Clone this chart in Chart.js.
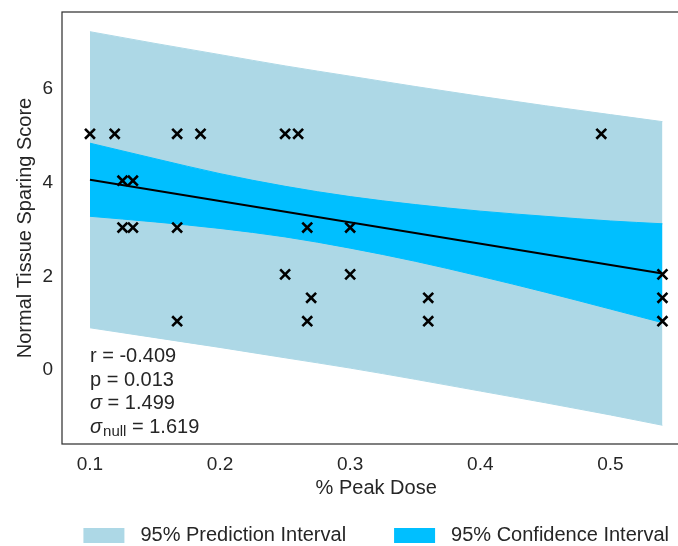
<!DOCTYPE html>
<html lang="en">
<head>
<meta charset="UTF-8">
<title>Normal Tissue Sparing Score vs % Peak Dose</title>
<script src="https://cdn.jsdelivr.net/npm/chart.js"></script>
<style>
  html, body { margin: 0; padding: 0; overflow: hidden; background: #fff; }
</style>
</head>
<body>
<canvas id="doseChart" width="700" height="546"></canvas>
<script>
// observed points (% peak dose, sparing score)
const doseX = [0.1, 0.119, 0.167, 0.185, 0.25, 0.26, 0.493,
               0.125, 0.133,
               0.125, 0.133, 0.167, 0.267, 0.3,
               0.25, 0.3, 0.54,
               0.27, 0.36, 0.54,
               0.167, 0.267, 0.36, 0.54];
const scoreY = [5, 5, 5, 5, 5, 5, 5,
                4, 4,
                3, 3, 3, 3, 3,
                2, 2, 2,
                1.5, 1.5, 1.5,
                1, 1, 1, 1];

// fitted line
const fitX = [0.1, 0.54];
const fitY = [4.02, 2.02];

// interval edges
const bandX   = [0.1, 0.15, 0.2, 0.25, 0.3, 0.35, 0.4, 0.45, 0.5, 0.54];
const piUpper = [7.18, 6.93, 6.69, 6.45, 6.23, 6.01, 5.80, 5.60, 5.41, 5.26];
const ciUpper = [4.80, 4.47, 4.15, 3.88, 3.66, 3.49, 3.35, 3.24, 3.14, 3.08];
const ciLower = [3.24, 3.12, 2.98, 2.80, 2.56, 2.28, 1.96, 1.62, 1.26, 0.97];
const piLower = [0.86, 0.65, 0.44, 0.22, 0.00, -0.24, -0.49, -0.74, -1.00, -1.22];

const xTicks = [0.1, 0.2, 0.3, 0.4, 0.5];
const yTicks = [0, 2, 4, 6];

const stats = [
  { sym: '', sub: '', text: 'r = -0.409' },
  { sym: '', sub: '', text: 'p = 0.013' },
  { sym: 'σ', sub: '', text: ' = 1.499' },
  { sym: 'σ', sub: 'null', text: ' = 1.619' }
];

const FONT = '"Liberation Sans", Arial, sans-serif';
const TEXT = '#262626';
const PI_COLOR = '#ADD8E6';
const CI_COLOR = '#00BFFF';

Chart.defaults.font.family = FONT;
Chart.defaults.color = TEXT;

const toPts = (xs, ys) => xs.map((x, i) => ({ x: x, y: ys[i] }));

// box around the plot area (right side runs off the page, as in the original)
const framePlugin = {
  id: 'frame',
  afterDraw(chart) {
    const { ctx, chartArea: a } = chart;
    ctx.save();
    ctx.strokeStyle = '#333';
    ctx.lineWidth = 1.25;
    ctx.strokeRect(a.left, a.top, a.right - a.left, a.bottom - a.top);
    ctx.restore();
  }
};

// r / p / sigma text in lower left corner
const statsPlugin = {
  id: 'stats',
  afterDraw(chart) {
    const { ctx, chartArea: a } = chart;
    ctx.save();
    ctx.fillStyle = TEXT;
    ctx.textBaseline = 'middle';
    const x0 = a.left + 28;
    let y = a.bottom - 17 - 23.4 * (stats.length - 1);
    stats.forEach(s => {
      let x = x0;
      if (s.sym) {
        ctx.font = 'italic 20px ' + FONT;
        ctx.fillText(s.sym, x, y);
        x += ctx.measureText(s.sym).width;
      }
      if (s.sub) {
        ctx.font = '15px ' + FONT;
        ctx.fillText(s.sub, x + 1, y + 5);
        x += ctx.measureText(s.sub).width + 1;
      }
      ctx.font = '20px ' + FONT;
      ctx.fillText(s.text, x, y);
      y += 23.4;
    });
    ctx.restore();
  }
};

// legend row under the axis title
const legendPlugin = {
  id: 'bandLegend',
  afterDraw(chart) {
    const { ctx, chartArea: a } = chart;
    const items = [4, 2].map(i => chart.data.datasets[i]);
    const boxW = 41, boxH = 15, gap = 16, spacing = 48;
    ctx.save();
    ctx.font = '20px ' + FONT;
    ctx.textBaseline = 'middle';
    const widths = items.map(d => boxW + gap + ctx.measureText(d.label).width);
    const total = widths[0] + widths[1] + spacing;
    let x = (a.left + a.right) / 2 - total / 2;
    const cy = 535.5;
    items.forEach((d, i) => {
      ctx.fillStyle = d.backgroundColor;
      ctx.fillRect(x, cy - boxH / 2, boxW, boxH);
      ctx.fillStyle = TEXT;
      ctx.fillText(d.label, x + boxW + gap, cy);
      x += widths[i] + spacing;
    });
    ctx.restore();
  }
};

const bandStyle = (color) => ({
  type: 'line',
  borderColor: color,
  backgroundColor: color,
  borderWidth: 1,
  pointRadius: 0,
  cubicInterpolationMode: 'monotone'
});

const noEdgePadding = s => {
  s.paddingTop = 0;
  s.paddingBottom = 0;
  s.paddingLeft = 0;
  s.paddingRight = 0;
};

const ctx = document.getElementById('doseChart').getContext('2d');
const doseChart = new Chart(ctx, {
  type: 'scatter',
  data: {
    datasets: [
      {
        label: 'Observed',
        data: toPts(doseX, scoreY),
        pointStyle: 'crossRot',
        pointRadius: 7,
        pointBorderWidth: 2.6,
        borderColor: '#000',
        backgroundColor: '#000',
        order: 0
      },
      {
        label: 'Fit',
        type: 'line',
        data: toPts(fitX, fitY),
        borderColor: '#000',
        borderWidth: 2,
        pointRadius: 0,
        fill: false,
        order: 1
      },
      Object.assign(bandStyle(CI_COLOR), { label: '95% Confidence Interval', data: toPts(bandX, ciUpper), fill: '+1', order: 2 }),
      Object.assign(bandStyle(CI_COLOR), { label: 'ci lower', data: toPts(bandX, ciLower), fill: false, order: 3 }),
      Object.assign(bandStyle(PI_COLOR), { label: '95% Prediction Interval', data: toPts(bandX, piUpper), fill: '+1', order: 4 }),
      Object.assign(bandStyle(PI_COLOR), { label: 'pi lower', data: toPts(bandX, piLower), fill: false, order: 5 })
    ]
  },
  options: {
    responsive: false,
    animation: false,
    layout: { padding: { top: 12, right: 2, bottom: 42, left: 0 } },
    plugins: {
      legend: { display: false },
      tooltip: { enabled: false }
    },
    scales: {
      x: {
        type: 'linear',
        min: 0.0785,
        max: 0.5615,
        grid: { display: false, drawTicks: false },
        border: { display: false },
        afterBuildTicks: s => { s.ticks = xTicks.map(v => ({ value: v })); },
        afterFit: s => { s.height = 60; noEdgePadding(s); },
        ticks: {
          padding: 9,
          font: { size: 19 },
          color: TEXT,
          callback: v => v.toFixed(1)
        },
        title: {
          display: true,
          text: '% Peak Dose',
          font: { size: 20 },
          color: TEXT,
          padding: { top: 0, bottom: 4 }
        }
      },
      y: {
        min: -1.62,
        max: 7.6,
        grid: { display: false, drawTicks: false },
        border: { display: false },
        afterBuildTicks: s => { s.ticks = yTicks.map(v => ({ value: v })); },
        afterFit: s => { s.width = 62; noEdgePadding(s); },
        ticks: {
          padding: 9,
          labelOffset: 2,
          font: { size: 19 },
          color: TEXT,
          callback: v => String(v)
        },
        title: {
          display: true,
          text: 'Normal Tissue Sparing Score',
          font: { size: 20 },
          color: TEXT,
          padding: { top: 13, bottom: 0 }
        }
      }
    }
  },
  plugins: [framePlugin, statsPlugin, legendPlugin]
});
</script>
</body>
</html>
